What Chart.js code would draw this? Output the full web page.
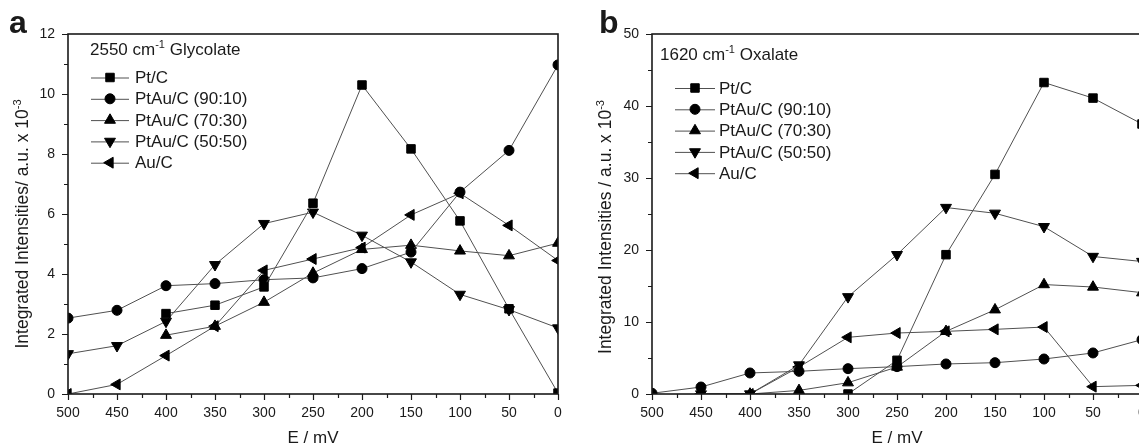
<!DOCTYPE html>
<html>
<head>
<meta charset="utf-8">
<script src="https://cdn.jsdelivr.net/npm/chart.js@4/dist/chart.umd.min.js"></script>
<style>
  html, body { margin: 0; padding: 0; background: #fff; overflow: hidden; width: 1139px; height: 447px; }
  #wrap { position: relative; width: 1139px; height: 447px; overflow: hidden; }
  canvas { position: absolute; top: 0; }
  #ca { left: 0; }
  #cb { left: 570px; }
</style>
</head>
<body>
<div id="wrap">
  <canvas id="ca" width="570" height="447"></canvas>
  <canvas id="cb" width="585" height="447"></canvas>
</div>
<script>
// ---------- DATA ----------
const potentials = [500, 450, 400, 350, 300, 250, 200, 150, 100, 50, 0];
const seriesNames = ['Pt/C', 'PtAu/C (90:10)', 'PtAu/C (70:30)', 'PtAu/C (50:50)', 'Au/C'];

// panel a: 2550 cm-1 Glycolate
const glyPtC   = [null, null, 2.68, 2.96, 3.57, 6.36, 10.30, 8.17, 5.77, 2.84, 0.03];
const gly9010  = [2.53, 2.79, 3.61, 3.68, 3.81, 3.87, 4.18, 4.73, 6.73, 8.12, 10.97];
const gly7030  = [null, null, 1.96, 2.26, 3.06, 4.03, 4.82, 4.96, 4.77, 4.61, 5.03];
const gly5050  = [1.34, 1.61, 2.42, 4.31, 5.68, 6.06, 5.29, 4.40, 3.32, 2.81, 2.20];
const glyAuC   = [0.00, 0.32, 1.28, 2.26, 4.12, 4.50, 4.88, 5.97, 6.69, 5.62, 4.45];

// panel b: 1620 cm-1 Oxalate
const oxPtC    = [null, null, null, null, 0.00, 4.68, 19.35, 30.50, 43.26, 41.10, 37.50];
const ox9010   = [0.10, 0.97, 2.92, 3.15, 3.52, 3.80, 4.17, 4.35, 4.86, 5.70, 7.55];
const ox7030   = [null, 0.00, 0.00, 0.50, 1.57, 3.75, 8.70, 11.70, 15.20, 14.86, 14.07];
const ox5050   = [null, 0.00, 0.00, 4.03, 13.50, 19.35, 25.90, 25.10, 23.24, 19.10, 18.40];
const oxAuC    = [null, 0.00, 0.00, 3.75, 7.87, 8.47, 8.70, 8.98, 9.30, 1.02, 1.20];

const xTickStep = 50, xMinorStep = 25, xMin = 0, xMax = 500;
const yAMax = 12, yAStep = 2, yAMinor = 1;
const yBMax = 50, yBStep = 10, yBMinor = 5;

// ---------- STYLE ----------
const FONT = '"Liberation Sans", Arial, Helvetica, sans-serif';
const LINE = '#505050';
const INK = '#1a1a1a';
const markers = [
  { pointStyle: 'rect', radius: 6.0, rotation: 0 },
  { pointStyle: 'circle', radius: 5.0, rotation: 0 },
  { pointStyle: 'triangle', radius: 6.3, rotation: 0 },
  { pointStyle: 'triangle', radius: 6.3, rotation: 180 },
  { pointStyle: 'triangle', radius: 6.3, rotation: -90 }
];

function drawMarker(ctx, m, x, y) {
  const r = m.radius;
  let a = (m.rotation || 0) * Math.PI / 180;
  ctx.beginPath();
  if (m.pointStyle === 'rect') {
    const s = r * Math.SQRT1_2;
    ctx.rect(x - s, y - s, 2 * s, 2 * s);
  } else if (m.pointStyle === 'circle') {
    ctx.arc(x, y, r, 0, Math.PI * 2);
  } else {
    ctx.moveTo(x + Math.sin(a) * r, y - Math.cos(a) * r);
    a += 2 * Math.PI / 3;
    ctx.lineTo(x + Math.sin(a) * r, y - Math.cos(a) * r);
    a += 2 * Math.PI / 3;
    ctx.lineTo(x + Math.sin(a) * r, y - Math.cos(a) * r);
    ctx.closePath();
  }
  ctx.fill();
  ctx.stroke();
}

function measureParts(ctx, parts, size, supSize) {
  let w = 0;
  parts.forEach(p => {
    ctx.font = (p.sup ? supSize : size) + 'px ' + FONT;
    w += ctx.measureText(p.t).width;
  });
  return w;
}
function drawParts(ctx, parts, x, y, size, supSize, supRise) {
  ctx.textBaseline = 'alphabetic';
  ctx.textAlign = 'left';
  let cx = x;
  parts.forEach(p => {
    ctx.font = (p.sup ? supSize : size) + 'px ' + FONT;
    ctx.fillText(p.t, cx, p.sup ? y - supRise : y);
    cx += ctx.measureText(p.t).width;
  });
}

function makePanel(id, P) {
  const datasets = P.series.map((vals, i) => ({
    label: seriesNames[i],
    data: potentials.map((x, k) => ({ x: x, y: vals[k] })).filter(p => p.y !== null),
    borderColor: LINE,
    borderWidth: 1,
    backgroundColor: '#000',
    pointBackgroundColor: '#000',
    pointBorderColor: '#000',
    pointBorderWidth: 1,
    pointStyle: markers[i].pointStyle,
    pointRadius: markers[i].radius,
    pointRotation: markers[i].rotation,
    tension: 0,
    clip: 0
  }));

  const decor = {
    id: 'decor' + id,
    afterDraw(chart) {
      const ctx = chart.ctx;
      const a = chart.chartArea;
      const xs = chart.scales.x, ys = chart.scales.y;
      ctx.save();
      ctx.strokeStyle = INK;
      ctx.lineWidth = 1.6;
      ctx.strokeRect(a.left, a.top, a.right - a.left, a.bottom - a.top);
      ctx.lineWidth = 1.2;
      ctx.beginPath();
      for (let v = xMin; v <= xMax; v += xMinorStep) {
        const px = Math.round(xs.getPixelForValue(v)) + 0.5;
        const len = (v % xTickStep === 0) ? 6 : 4;
        ctx.moveTo(px, a.bottom);
        ctx.lineTo(px, a.bottom + len);
      }
      for (let v = 0; v <= P.yMax + 1e-9; v += P.yMinor) {
        const py = Math.round(ys.getPixelForValue(v)) + 0.5;
        const len = (Math.abs(v % P.yStep) < 1e-9) ? 6 : 4;
        ctx.moveTo(a.left, py);
        ctx.lineTo(a.left - len, py);
      }
      ctx.stroke();

      ctx.fillStyle = INK;
      ctx.font = 'bold 32px ' + FONT;
      ctx.textAlign = 'left';
      ctx.textBaseline = 'alphabetic';
      ctx.fillText(P.letter, P.letterX, 33);

      ctx.font = '17px ' + FONT;
      ctx.textAlign = 'center';
      ctx.textBaseline = 'middle';
      ctx.fillText('E / mV', (a.left + a.right) / 2, 438);

      ctx.save();
      ctx.translate(P.yTitleX, P.yTitleY);
      ctx.rotate(-Math.PI / 2);
      const w = measureParts(ctx, P.yTitle, 17.5, 11);
      drawParts(ctx, P.yTitle, -w / 2, 6, 17.5, 11, 7);
      ctx.restore();

      drawParts(ctx, P.legendTitle, P.legTitleX, P.legTitleY + 6, 17, 11, 7);

      for (let i = 0; i < seriesNames.length; i++) {
        const y = P.legY0 + i * P.legDy;
        ctx.strokeStyle = LINE;
        ctx.lineWidth = 1;
        ctx.beginPath();
        ctx.moveTo(P.legLine[0], y + 0.5);
        ctx.lineTo(P.legLine[1], y + 0.5);
        ctx.stroke();
        ctx.fillStyle = '#000';
        ctx.strokeStyle = '#000';
        drawMarker(ctx, markers[i], P.legMarker, y);
        ctx.fillStyle = INK;
        ctx.font = '17px ' + FONT;
        ctx.textAlign = 'left';
        ctx.textBaseline = 'middle';
        ctx.fillText(seriesNames[i], P.legText, y + 1);
      }
      ctx.restore();
    }
  };

  return new Chart(document.getElementById(id), {
    type: 'line',
    data: { datasets },
    options: {
      responsive: false,
      animation: false,
      devicePixelRatio: 1,
      layout: { padding: { top: 34, right: P.padRight, left: 0, bottom: 0 } },
      plugins: { legend: { display: false }, tooltip: { enabled: false } },
      scales: {
        x: {
          type: 'linear',
          min: xMin, max: xMax, reverse: true,
          afterFit(s) { s.height = 53; },
          grid: { drawOnChartArea: false, drawTicks: true, tickLength: 6, color: 'rgba(0,0,0,0)', tickColor: 'rgba(0,0,0,0)' },
          border: { display: false },
          ticks: { stepSize: xTickStep, padding: 5, color: INK, font: { family: FONT, size: 14 }, maxRotation: 0, autoSkip: false }
        },
        y: {
          type: 'linear',
          min: 0, max: P.yMax,
          afterFit(s) { s.width = P.yAxisW; },
          grid: { drawOnChartArea: false, drawTicks: true, tickLength: 6, color: 'rgba(0,0,0,0)', tickColor: 'rgba(0,0,0,0)' },
          border: { display: false },
          ticks: { stepSize: P.yStep, padding: 7, color: INK, font: { family: FONT, size: 14 } }
        }
      }
    },
    plugins: [decor]
  });
}

makePanel('ca', {
  series: [glyPtC, gly9010, gly7030, gly5050, glyAuC],
  yMax: yAMax, yStep: yAStep, yMinor: yAMinor,
  yAxisW: 68, padRight: 12,
  letter: 'a', letterX: 9,
  yTitleX: 22, yTitleY: 224,
  yTitle: [{ t: 'Integrated Intensities/ a.u. x 10' }, { t: '-3', sup: true }],
  legendTitle: [{ t: '2550 cm' }, { t: '-1', sup: true }, { t: ' Glycolate' }],
  legTitleX: 90, legTitleY: 49,
  legY0: 77.5, legDy: 21.3, legLine: [91, 129], legMarker: 110, legText: 135
});

makePanel('cb', {
  series: [oxPtC, ox9010, ox7030, ox5050, oxAuC],
  yMax: yBMax, yStep: yBStep, yMinor: yBMinor,
  yAxisW: 82, padRight: 13,
  letter: 'b', letterX: 29,
  yTitleX: 35, yTitleY: 227,
  yTitle: [{ t: 'Integrated Intensities / a.u. x 10' }, { t: '-3', sup: true }],
  legendTitle: [{ t: '1620 cm' }, { t: '-1', sup: true }, { t: ' Oxalate' }],
  legTitleX: 90, legTitleY: 54,
  legY0: 88, legDy: 21.3, legLine: [105, 145], legMarker: 125, legText: 149
});
</script>
</body>
</html>
